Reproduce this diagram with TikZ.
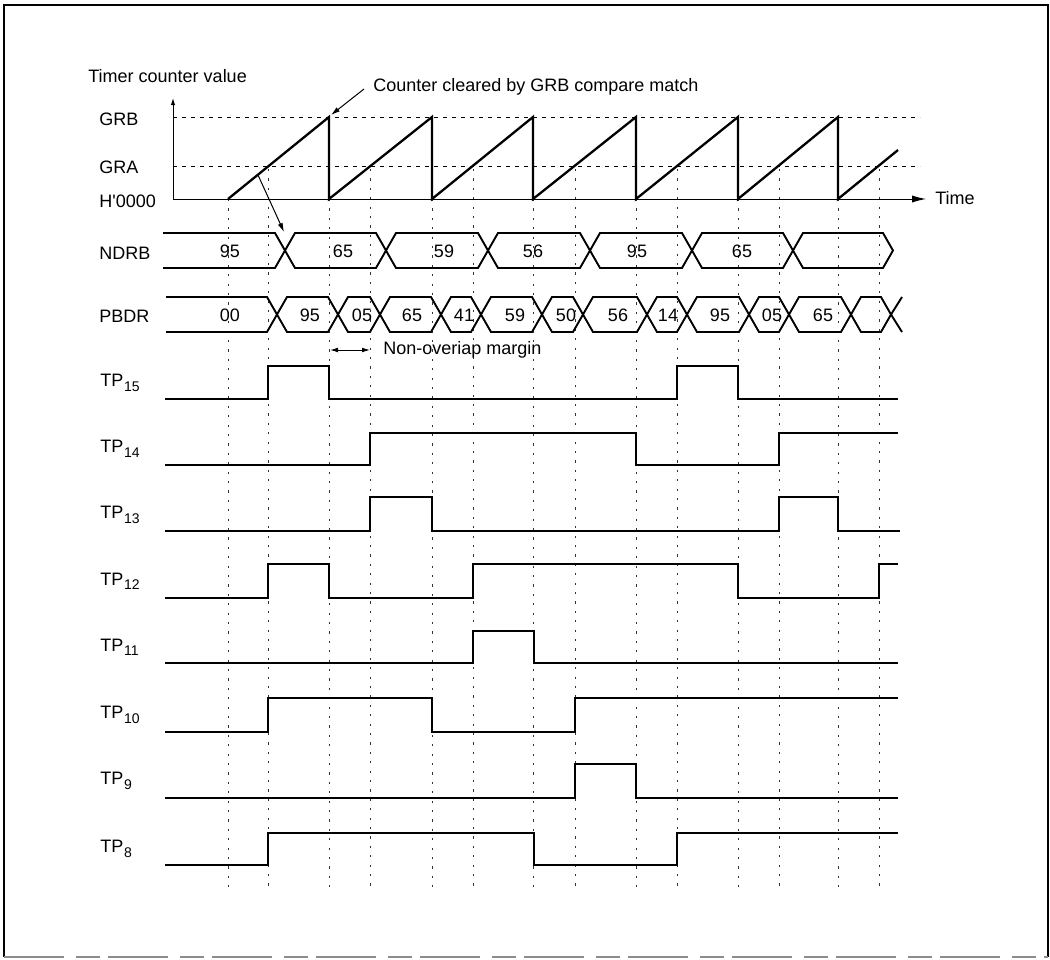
\documentclass[tikz,border=0pt]{standalone}
\usepackage{fontspec}
\setmainfont{Liberation Sans}
\usetikzlibrary{arrows.meta}
\newcommand\tplabel[1]{TP\kern0.4pt\raisebox{-2.2pt}{\fontsize{7}{8}\selectfont #1}}
\begin{document}
\begin{tikzpicture}[x=0.5pt,y=-0.5pt,
  lbl/.style={font=\fontsize{9}{10}\selectfont, inner sep=0pt},
  wave/.style={line width=1.15pt, line join=miter},
  bus/.style={line width=0.95pt, line join=miter},
  thinline/.style={line width=0.5pt},
  gridline/.style={line width=0.45pt, dash pattern=on 1.1pt off 3.6pt, black!80},
  lvl/.style={line width=0.45pt, dash pattern=on 2pt off 2.5pt},
]
\useasboundingbox (0,0) rectangle (1050,959);
% frame
\draw[line width=0.9pt] (4,957) -- (4,5) -- (1048,5) -- (1048,957);
\draw[line width=0.8pt, black!45, dash pattern=on 30pt off 6pt on 12pt off 4pt] (4,957) -- (1048,957);

% vertical dotted lines
\draw[gridline] (228,199) -- (228,887);
\foreach \x in {268,370,473,575,677,779,879} \draw[gridline] (\x,169) -- (\x,887);
\foreach \x in {329,432,533,636,738,838} \draw[gridline] (\x,199) -- (\x,887);

% level lines
\draw[lvl] (173,117) -- (920,117);
\draw[lvl] (173,166) -- (920,166);

% axes
\coordinate (org) at (173,199);
\coordinate (ytop) at (173,98);
\coordinate (xend) at (926,199);
\draw[thinline,-{Latex[length=3.5pt,width=2.2pt]}] (org) -- (ytop);
\draw[thinline,-{Latex[length=7pt,width=3.6pt]}] (org) -- (xend);

% labels top
\node[lbl, anchor=west] (tcv) at (88,76) {Timer counter value};
\node[lbl, anchor=west] (grb) at (99,119) {GRB};
\node[lbl, anchor=west] (gra) at (99,167) {GRA};
\node[lbl, anchor=west] (h0) at (99,201) {H\textquotesingle 0000};
\node[lbl, anchor=west] (time) at (935,198) {Time};
\node[lbl, anchor=west] (ccl) at (373,87) {Counter cleared by GRB compare match};

% ramps
\draw[wave] (228,199) -- (329,117) -- (329,199) -- (432,117) -- (432,199)
  -- (533,117) -- (533,199) -- (636,117) -- (636,199) -- (738,117) -- (738,199)
  -- (838,117) -- (838,199) -- (898,150);

% annotation arrows
\coordinate (cca) at (364,89);
\coordinate (clr) at (331,115);
\draw[thinline,-{Latex[length=4.5pt,width=2.6pt]}] (cca) -- (clr);
\coordinate (rampA) at (258,175);
\coordinate (ndrbT) at (284,232);
\draw[thinline,-{Latex[length=4.5pt,width=2.6pt]}] (rampA) -- (ndrbT);

% NDRB bus
\node[lbl, anchor=west] (ndrb) at (99,253) {NDRB};
\draw[bus] (163,233) -- (275,233) -- (285,250.5) -- (275,268) -- (163,268);
\foreach \a/\b in {285/386,386/488,488/590,590/692,692/793,793/893}
  \draw[bus] (\a,250.5) -- (\a+10,233) -- (\b-10,233) -- (\b,250.5) -- (\b-10,268) -- (\a+10,268) -- cycle;
\node[lbl] (nd1) at (230,251) {95};
\node[lbl] (nd2) at (343,251) {65};
\node[lbl] (nd3) at (444,251) {59};
\node[lbl] (nd4) at (533,251) {56};
\node[lbl] (nd5) at (637,251) {95};
\node[lbl] (nd6) at (742,251) {65};

% PBDR bus
\node[lbl, anchor=west] (pbdr) at (99,316) {PBDR};
\draw[bus] (166,297) -- (267,297) -- (277,314.5) -- (267,332) -- (166,332);
\foreach \a/\b in {277/338,338/380,380/441,441/481,481/542,542/583,583/647,647/687,687/749,749/789,789/851,851/891}
  \draw[bus] (\a,314.5) -- (\a+10,297) -- (\b-10,297) -- (\b,314.5) -- (\b-10,332) -- (\a+10,332) -- cycle;
\draw[bus] (902,297) -- (891,314.5) -- (902,332);
\node[lbl] (pb1) at (230,315) {00};
\node[lbl] (pb2) at (310,315) {95};
\node[lbl] (pb3) at (362,315) {05};
\node[lbl] (pb4) at (412,315) {65};
\node[lbl] (pb5) at (464,315) {41};
\node[lbl] (pb6) at (515,315) {59};
\node[lbl] (pb7) at (566,315) {50};
\node[lbl] (pb8) at (618,315) {56};
\node[lbl] (pb9) at (668,315) {14};
\node[lbl] (pb10) at (720,315) {95};
\node[lbl] (pb11) at (772,315) {05};
\node[lbl] (pb12) at (823,315) {65};

% non-overlap margin
\coordinate (nom1) at (330,350);
\coordinate (nom2) at (370,350);
\draw[thinline,{Latex[length=4pt,width=2.4pt]}-{Latex[length=4pt,width=2.4pt]}] (nom1) -- (nom2);
\node[lbl, anchor=west] (nom) at (383,350) {Non-overiap margin};

% TP waveforms
\node[lbl, anchor=west] (tp15) at (100,383) {\tplabel{15}};
\draw[wave] (165,399) -| (268,366) -| (329,399) -| (677,366) -| (738,399) -- (898,399);
\node[lbl, anchor=west] (tp14) at (100,449) {\tplabel{14}};
\draw[wave] (165,465) -| (370,433) -| (636,465) -| (779,433) -- (898,433);
\node[lbl, anchor=west] (tp13) at (100,515) {\tplabel{13}};
\draw[wave] (165,531) -| (370,497) -| (432,531) -| (779,497) -| (838,531) -- (900,531);
\node[lbl, anchor=west] (tp12) at (100,581) {\tplabel{12}};
\draw[wave] (165,598) -| (268,564) -| (329,598) -| (473,564) -| (738,598) -| (879,564) -- (898,564);
\node[lbl, anchor=west] (tp11) at (100,647) {\tplabel{11}};
\draw[wave] (165,663) -| (473,631) -| (534,663) -- (898,663);
\node[lbl, anchor=west] (tp10) at (100,715) {\tplabel{10}};
\draw[wave] (165,732) -| (268,698) -| (432,732) -| (575,698) -- (898,698);
\node[lbl, anchor=west] (tp9) at (100,781) {\tplabel{9}};
\draw[wave] (165,798) -| (575,764) -| (636,798) -- (898,798);
\node[lbl, anchor=west] (tp8) at (100,849) {\tplabel{8}};
\draw[wave] (165,865) -| (268,833) -| (534,865) -| (677,833) -- (898,833);
\end{tikzpicture}
\end{document}
